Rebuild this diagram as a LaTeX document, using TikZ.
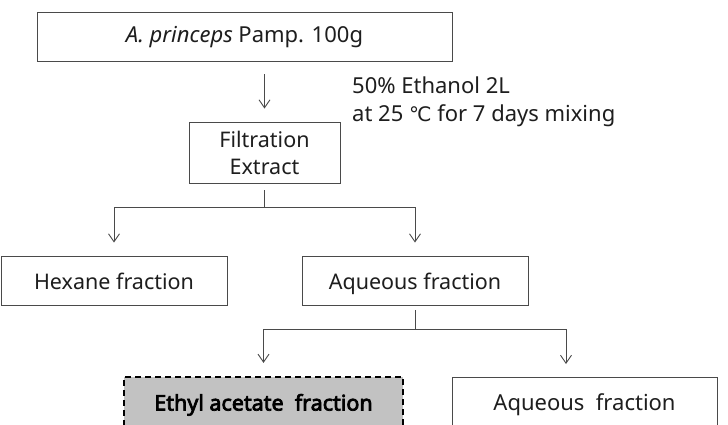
\documentclass[tikz,border=0pt]{standalone}
\usepackage{fontspec}
\setmainfont{Noto Sans}[AutoFakeBold=3.5]
\newfontfamily\symfont{DejaVu Sans}
\usetikzlibrary{arrows.meta,calc}
\definecolor{linec}{HTML}{4A4A4A}
\definecolor{txtc}{HTML}{1E1E1E}
\definecolor{fillg}{HTML}{C2C2C2}
\tikzset{
  box/.style={draw=linec, line width=0.9pt, fill=white, text=txtc, inner sep=0pt, minimum height=49pt, text height=20pt, text depth=2pt, font=\fontsize{21.5}{26}\selectfont},
  notetxt/.style={anchor=base west, text=txtc, inner sep=0pt, font=\fontsize{22}{28}\selectfont},
  conn/.style={draw=linec, line width=0.9pt},
  arr/.style={conn, -{Straight Barb[length=8pt,width=11pt,line width=0.9pt]}},
}
\begin{document}
\begin{tikzpicture}[x=1pt,y=-1pt]
\clip (0,0) rectangle (728,424);
\fill[white] (0,0) rectangle (728,424);
\node[box, minimum width=415pt, text height=16pt, text depth=5pt, font=\fontsize{22}{26}\selectfont] (top) at (244.5,36.5) {\textit{A. princeps} Pamp. 100g};
\node[box, minimum width=151pt, minimum height=61pt, text height=, text depth=, align=center, font=\fontsize{21.5}{27}\selectfont] (filt) at (264.5,152.5) {Filtration\\Extract};
\node[notetxt] (note1) at (352,93.3) {50\% Ethanol 2L};
\node[notetxt] (note2) at (352,121.7) {at 25 {\symfont\fontsize{20}{28}\selectfont ℃} for 7 days mixing};
\node[box, minimum width=226pt] (hex) at (114,280.5) {Hexane fraction};
\node[box, minimum width=226pt] (aq) at (415,280.5) {Aqueous fraction};
\node[box, draw=black, dash pattern=on 6pt off 4pt, line width=2.2pt, fill=fillg, minimum width=279pt, text=black, font=\fontsize{21.5}{26}\selectfont] (eth) at (263.5,401.5) {\textbf{Ethyl acetate\ \ fraction}};
\node[box, minimum width=265pt, font=\fontsize{22}{26}\selectfont] (aq2) at (584.5,401.5) {Aqueous\ \ fraction};
\coordinate (aq2in) at (566,377);
\draw[arr, shorten <=13pt, shorten >=13pt] (top.south -| filt.north) -- (filt.north);
\draw[conn, shorten <=7pt] (filt.south) -- ++(0,24) coordinate (j1);
\draw[arr, shorten >=13pt] (j1) -| (hex.north);
\draw[arr, shorten >=13pt] (j1) -| (aq.north);
\draw[conn, shorten <=5pt] (aq.south) -- ++(0,24) coordinate (j2);
\draw[arr, shorten >=13pt] (j2) -| (eth.north);
\draw[arr, shorten >=13pt] (j2) -| (aq2in);
\end{tikzpicture}
\end{document}
